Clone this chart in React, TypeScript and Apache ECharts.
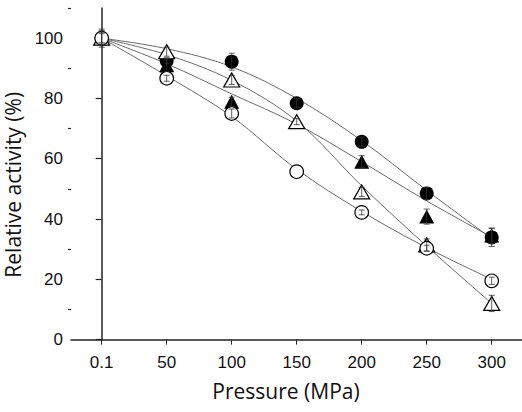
import React, { useEffect, useRef } from "react";
import * as echarts from "echarts";

const xLabels = ["0.1", "50", "100", "150", "200", "250", "300"];
const yMajorTicks = [0, 20, 40, 60, 80, 100];
const yMinorTicks = [10, 30, 50, 70, 90, 110];

// measured points
const filledCircle = [100, 92.5, 92.2, 78.4, 65.6, 48.5, 33.9];
const filledTriangle = [100, 91, 78.9, 72.3, 59, 40.8, 34.5];
const openTriangle = [100, 95.5, 86.1, 72.3, 49, 31.4, 12];
const openCircle = [100, 86.7, 75, 55.7, 42.2, 30.3, 19.5];

// error (±)
const filledCircleErr = [2, 1, 2.8, 1.5, 1.5, 2, 3];
const filledTriangleErr = [1.5, 2, 1.5, 0, 2, 2.5, 2.5];
const openTriangleErr = [2.5, 1.5, 1.5, 1, 1.5, 2, 2.7];
const openCircleErr = [3, 1, 1.5, 0, 0.8, 1, 1.2];

// fitted curves
const filledCircleFit = [100, 96.5, 90.5, 80, 66, 49.5, 33.5];
const filledTriangleFit = [100, 91.5, 81.5, 71.5, 59, 46, 34];
const openTriangleFit = [100, 94.5, 86, 72.5, 51, 31, 12];
const openCircleFit = [100, 87.5, 74, 56.5, 42.5, 30.5, 20];

const idx = xLabels.map((_, i) => i);
const pts = (arr: number[]) => arr.map((v, i) => [i, v]);

export default function App() {
  const ref = useRef<HTMLDivElement>(null);
  useEffect(() => {
    if (!ref.current) return;
    const chart = echarts.init(ref.current, undefined, { renderer: "svg" });

    const fitLine = (arr: number[]) => ({
      type: "line",
      data: pts(arr),
      smooth: 0.35,
      symbol: "none",
      lineStyle: { color: "#6a6a6a", width: 1 },
      silent: true,
      z: 1,
    });

    const markSeries = (arr: number[], symbol: string, size: any, filled: boolean) => ({
      type: "scatter",
      data: pts(arr),
      symbol,
      symbolSize: size,
      itemStyle: {
        color: filled ? "#000" : "#fff",
        borderColor: "#000",
        borderWidth: filled ? 0 : 1.2,
        opacity: 1,
      },
      z: 3,
    });

    const errData: number[][] = [];
    const addErr = (vals: number[], errs: number[]) => {
      vals.forEach((v, i) => {
        if (errs[i] > 0) errData.push([i, v - errs[i], v + errs[i]]);
      });
    };
    addErr(filledCircle, filledCircleErr);
    addErr(filledTriangle, filledTriangleErr);
    addErr(openTriangle, openTriangleErr);
    addErr(openCircle, openCircleErr);

    const axisText = { fontFamily: "Liberation Sans", fontSize: 17, color: "#111" };
    const nameText = { fontFamily: "Open Sans", fontSize: 21, color: "#111" };

    chart.setOption({
      animation: false,
      backgroundColor: "#fff",
      grid: { left: 71, right: 0, top: 8, bottom: 72.4, containLabel: false, outerBoundsMode: "none" },
      xAxis: {
        type: "value",
        min: -0.472,
        max: 6.466,
        name: "Pressure (MPa)",
        nameLocation: "middle",
        nameGap: 41,
        nameTextStyle: { ...nameText, padding: [0, 21, 0, 0] },
        axisLine: { show: true, onZero: false, lineStyle: { color: "#222", width: 1.5 } },
        axisTick: { show: true, length: 5, customValues: idx, lineStyle: { color: "#222", width: 1 } },
        axisLabel: {
          ...axisText,
          margin: 14,
          customValues: idx,
          formatter: (v: number) => xLabels[Math.round(v)] ?? "",
        },
        splitLine: { show: false },
      },
      yAxis: [
        {
          type: "value",
          min: 0,
          max: 110,
          position: "left",
          name: "Relative activity (%)",
          nameLocation: "middle",
          nameGap: 44,
          nameTextStyle: { ...nameText, padding: [0, 22, 0, 0] },
          axisLine: { show: true, lineStyle: { color: "#222", width: 1.5 } },
          axisTick: { show: true, length: 6, customValues: yMajorTicks, lineStyle: { color: "#222", width: 1.2 } },
          axisLabel: { ...axisText, margin: 8, customValues: yMajorTicks },
          splitLine: { show: false },
        },
        {
          type: "value",
          min: 0,
          max: 110,
          position: "left",
          axisLine: { show: false },
          axisTick: { show: true, length: 3, customValues: yMinorTicks, lineStyle: { color: "#222", width: 1.2 } },
          axisLabel: { show: false },
          splitLine: { show: false },
        },
      ],
      series: [
        fitLine(filledCircleFit),
        fitLine(filledTriangleFit),
        fitLine(openTriangleFit),
        fitLine(openCircleFit),
        markSeries(filledCircle, "circle", 14, true),
        markSeries(filledTriangle, "triangle", [15, 14], true),
        markSeries(openTriangle, "triangle", [16, 14], false),
        markSeries(openCircle, "circle", 13.5, false),
        {
          type: "custom",
          data: errData,
          encode: { x: 0, y: [1, 2] },
          z: 4,
          silent: true,
          renderItem: (_params: any, api: any) => {
            const x = api.value(0);
            const lo = api.value(1);
            const hi = api.value(2);
            const p1 = api.coord([x, hi]);
            const p2 = api.coord([x, lo]);
            const w = 3;
            const st = { stroke: "#333", lineWidth: 0.8 };
            return {
              type: "group",
              children: [
                { type: "line", shape: { x1: p1[0], y1: p1[1], x2: p2[0], y2: p2[1] }, style: st },
                { type: "line", shape: { x1: p1[0] - w, y1: p1[1], x2: p1[0] + w, y2: p1[1] }, style: st },
                { type: "line", shape: { x1: p2[0] - w, y1: p2[1], x2: p2[0] + w, y2: p2[1] }, style: st },
              ],
            };
          },
        },
      ],
    });
    return () => chart.dispose();
  }, []);
  return (
    <div
      ref={ref}
      style={{ position: "fixed", left: 0, top: 0, width: 522, height: 412, background: "#fff" }}
    />
  );
}
